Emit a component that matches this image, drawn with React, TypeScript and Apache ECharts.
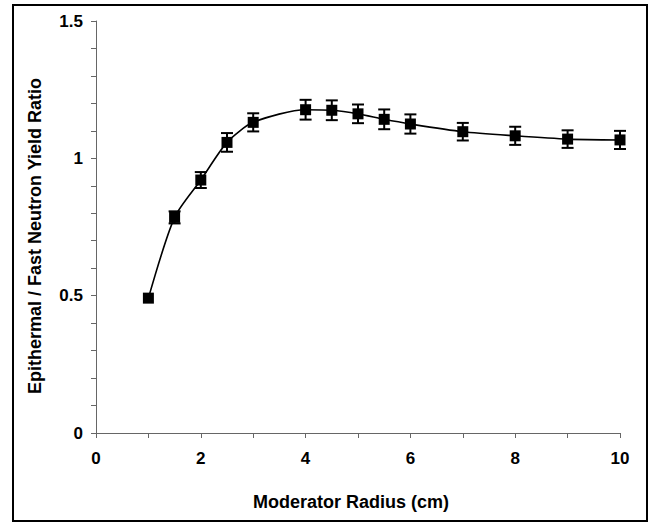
import React, { useEffect, useRef } from "react";
import * as echarts from "echarts";

const radius = [1, 1.5, 2, 2.5, 3, 4, 4.5, 5, 5.5, 6, 7, 8, 9, 10];
const ratio = [0.491, 0.785, 0.921, 1.058, 1.131, 1.177, 1.175, 1.162, 1.142, 1.125, 1.097, 1.082, 1.07, 1.067];
const errors = [0, 0.022, 0.029, 0.034, 0.033, 0.036, 0.036, 0.034, 0.036, 0.035, 0.032, 0.033, 0.032, 0.033];
const xTitle = "Moderator Radius (cm)";
const yTitle = "Epithermal / Fast Neutron Yield Ratio";

const FONT = "'Liberation Sans', Arial, sans-serif";

export default function App() {
  const ref = useRef<HTMLDivElement>(null);
  useEffect(() => {
    if (!ref.current) return;
    const chart = echarts.init(ref.current, null, { renderer: "svg" });
    const isMult = (v: number, m: number) => Math.abs(v / m - Math.round(v / m)) < 1e-6;
    chart.setOption({
      animation: false,
      backgroundColor: "#fff",
      grid: { left: 96, right: 29, top: 21, bottom: 90, containLabel: false },
      xAxis: {
        type: "value",
        min: 0,
        max: 10,
        interval: 1,
        axisLine: { lineStyle: { color: "#666", width: 1 } },
        axisTick: { show: true, length: 5, lineStyle: { color: "#666" } },
        splitLine: { show: false },
        axisLabel: {
          margin: 17,
          color: "#000",
          fontFamily: FONT,
          fontWeight: "bold",
          fontSize: 17,
          formatter: (v: number) => (isMult(v, 2) ? String(Math.round(v)) : ""),
        },
      },
      yAxis: {
        type: "value",
        min: 0,
        max: 1.5,
        interval: 0.1,
        axisLine: { show: true, lineStyle: { color: "#666", width: 1 } },
        axisTick: { show: true, length: 5, lineStyle: { color: "#666" } },
        splitLine: { show: false },
        axisLabel: {
          margin: 13,
          color: "#000",
          fontFamily: FONT,
          fontWeight: "bold",
          fontSize: 17,
          formatter: (v: number) => (isMult(v, 0.5) ? String(Math.round(v * 2) / 2) : ""),
        },
      },
      graphic: [
        {
          type: "rect",
          shape: { x: 13, y: 5, width: 634, height: 516 },
          style: { fill: "none", stroke: "#000", lineWidth: 2 },
          silent: true,
        },
        {
          type: "text",
          x: 351,
          y: 502,
          style: {
            text: xTitle,
            fill: "#000",
            font: `bold 18px ${FONT}`,
            textAlign: "center",
            textVerticalAlign: "middle",
          },
        },
        {
          type: "text",
          x: 35,
          y: 236,
          rotation: Math.PI / 2,
          style: {
            text: yTitle,
            fill: "#000",
            font: `bold 18px ${FONT}`,
            textAlign: "center",
            textVerticalAlign: "middle",
          },
        },
      ],
      series: [
        {
          type: "custom",
          data: radius.map((r, i) => [r, ratio[i], errors[i]]),
          encode: { x: 0, y: 1 },
          z: 3,
          renderItem: (params: any, api: any) => {
            const x = api.value(0);
            const y = api.value(1);
            const e = api.value(2);
            if (!e) return null;
            const top = api.coord([x, y + e]);
            const bot = api.coord([x, y - e]);
            const w = 6;
            const st = { stroke: "#000", lineWidth: 2 };
            return {
              type: "group",
              children: [
                { type: "line", shape: { x1: top[0], y1: top[1], x2: bot[0], y2: bot[1] }, style: st },
                { type: "line", shape: { x1: top[0] - w, y1: top[1], x2: top[0] + w, y2: top[1] }, style: st },
                { type: "line", shape: { x1: bot[0] - w, y1: bot[1], x2: bot[0] + w, y2: bot[1] }, style: st },
              ],
            };
          },
        },
        {
          type: "line",
          data: radius.map((r, i) => [r, ratio[i]]),
          smooth: 0.25,
          symbol: "rect",
          symbolSize: 11,
          itemStyle: { color: "#000" },
          lineStyle: { color: "#000", width: 1.6 },
          z: 4,
        },
      ],
    });
    return () => chart.dispose();
  }, []);
  return (
    <div
      ref={ref}
      style={{ position: "fixed", left: 0, top: 0, width: 649, height: 523, background: "#fff" }}
    />
  );
}
